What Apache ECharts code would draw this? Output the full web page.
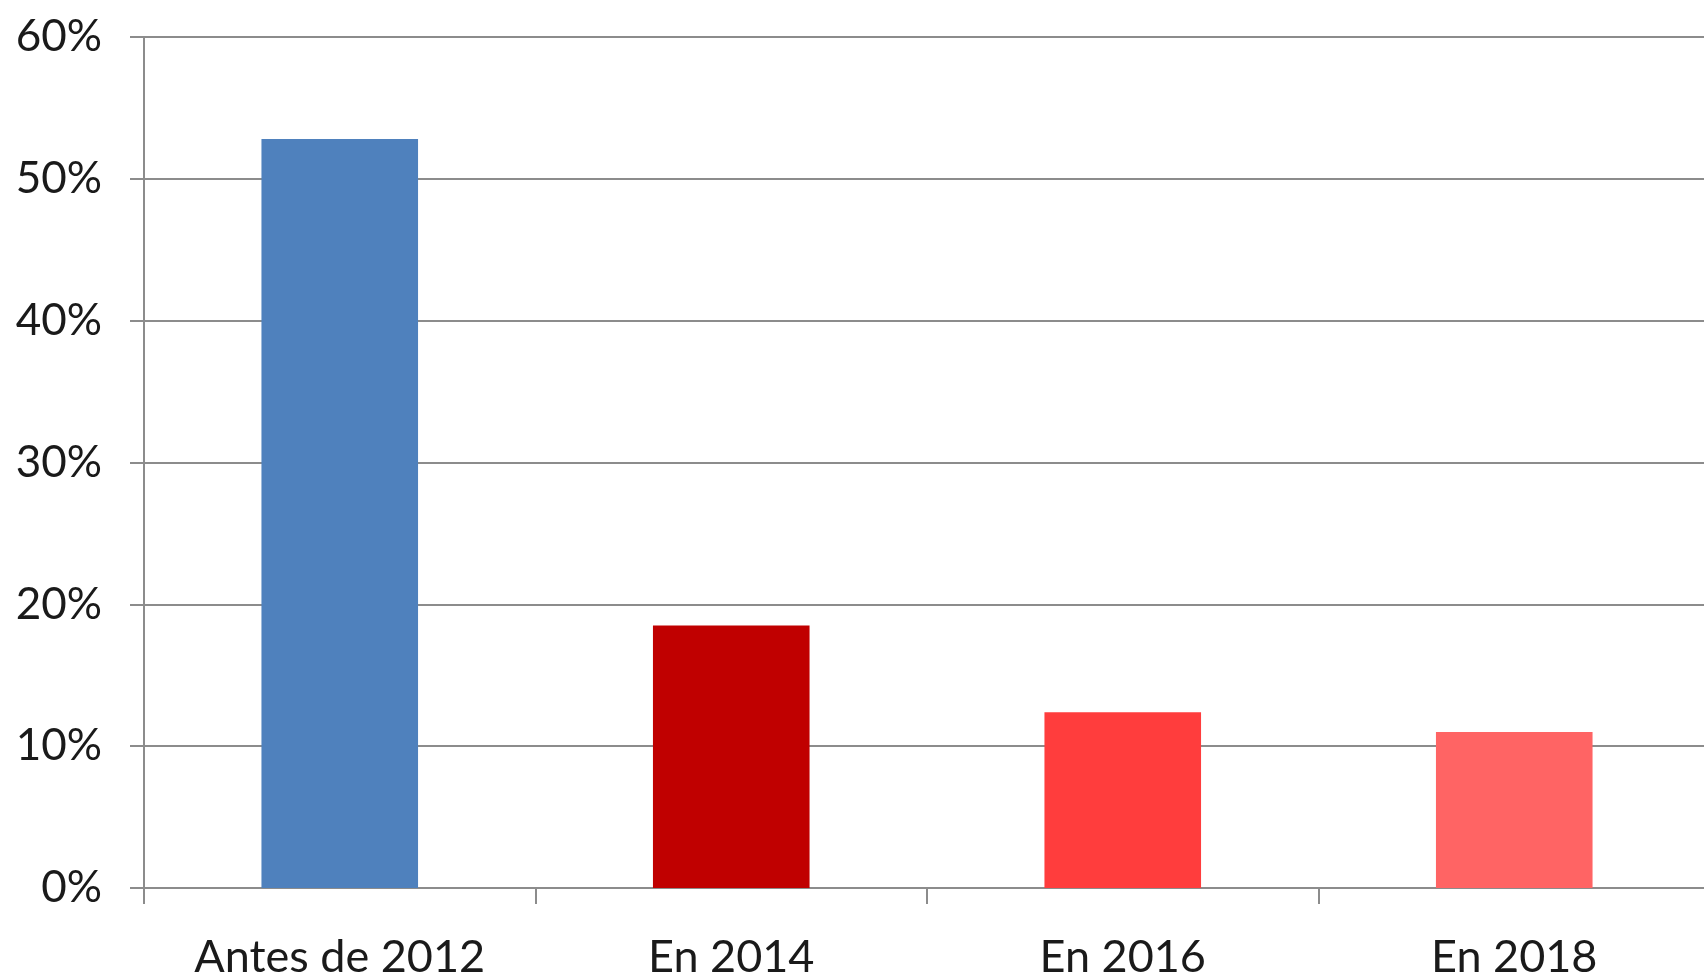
<!DOCTYPE html>
<html>
<head>
<meta charset="utf-8">
<script src="https://cdn.jsdelivr.net/npm/echarts@6/dist/echarts.min.js"></script>
<style>
  html, body { margin: 0; padding: 0; background: #ffffff; }
  #chart { width: 1704px; height: 979px; }
</style>
</head>
<body>
<div id="chart"></div>
<script>
// Share per period (percent)
const categories = ['Antes de 2012', 'En 2014', 'En 2016', 'En 2018'];
const values = [52.8, 18.5, 12.4, 11.0];
const barColors = ['#4F81BD', '#C00000', '#FF3D3D', '#FF6464'];
const yTicks = { min: 0, max: 60, interval: 10 };

const chart = echarts.init(document.getElementById('chart'), null, { renderer: 'canvas' });

const lineStyle = { color: '#8c8c8c', width: 2 };
const fontFamily = 'Lato, "Open Sans", sans-serif';

chart.setOption({
  animation: false,
  backgroundColor: '#ffffff',
  grid: {
    left: 144, right: -6, top: 37, bottom: 91,
    containLabel: false, outerBoundsMode: 'none'
  },
  xAxis: {
    type: 'category',
    data: categories,
    axisLine: { show: true, lineStyle: lineStyle },
    axisTick: { show: true, length: 16, alignWithLabel: false, lineStyle: lineStyle },
    axisLabel: { color: '#1a1a1a', fontSize: 45, fontFamily: fontFamily, margin: 47 }
  },
  yAxis: {
    type: 'value',
    min: yTicks.min,
    max: yTicks.max,
    interval: yTicks.interval,
    axisLine: { show: true, lineStyle: lineStyle },
    axisTick: { show: true, length: 14, lineStyle: lineStyle },
    splitLine: { show: true, lineStyle: lineStyle },
    axisLabel: {
      color: '#1a1a1a', fontSize: 44, fontFamily: fontFamily, margin: 42,
      formatter: '{value}%'
    }
  },
  series: [{
    type: 'bar',
    data: values.map((v, i) => ({ value: v, itemStyle: { color: barColors[i] } })),
    barWidth: '40%'
  }]
});
</script>
</body>
</html>
